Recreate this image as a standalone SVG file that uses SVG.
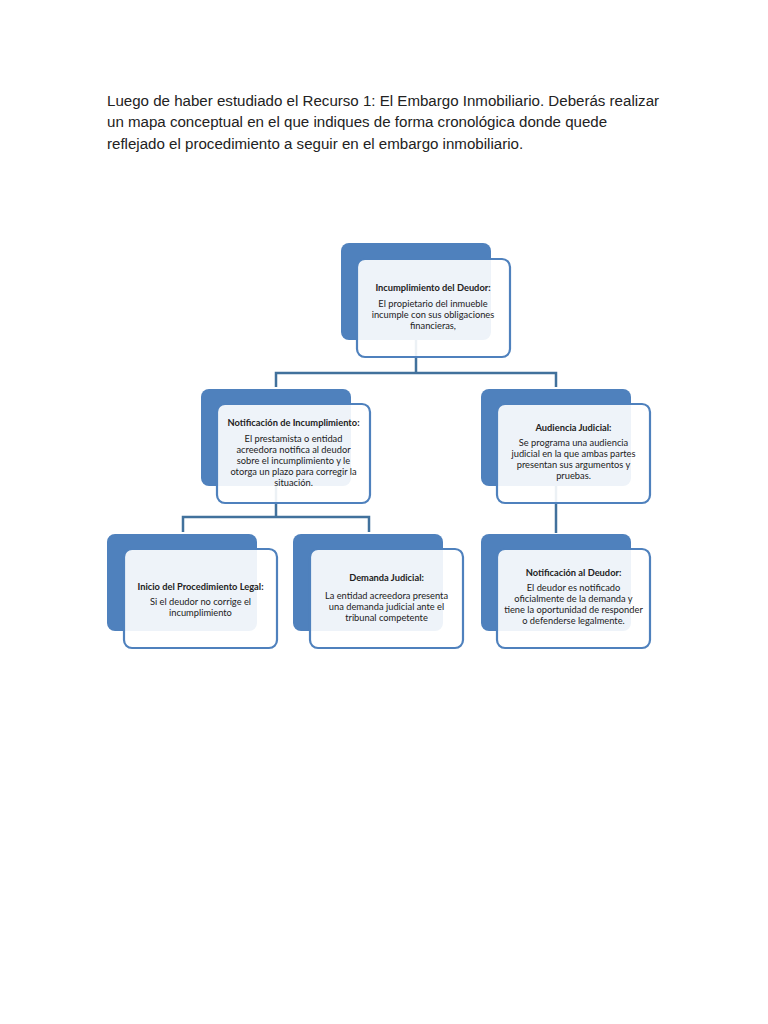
<svg xmlns="http://www.w3.org/2000/svg" width="768" height="1024" viewBox="0 0 768 1024">
<style>
.title{font-family:"Liberation Sans",Arial,sans-serif;font-size:15.1px;fill:#222}
.back{fill:#4f81bd}
.front{fill:#ffffff;fill-opacity:0.9;stroke:#4f81bd;stroke-width:2.2}
.conn{fill:none;stroke:#41719c;stroke-width:2.5}
.h{font-family:Lato,"Open Sans",sans-serif;font-size:9.3px;font-weight:bold;fill:#222;text-anchor:middle}
.b{font-family:Lato,"Open Sans",sans-serif;font-size:9.3px;fill:#222;text-anchor:middle}
</style>
<rect width="768" height="1024" fill="#ffffff"/>
<g id="title">
<text class="title" x="107" y="106">Luego de haber estudiado el Recurso 1: El Embargo Inmobiliario. Deberás realizar</text>
<text class="title" x="107" y="127">un mapa conceptual en el que indiques de forma cronológica donde quede</text>
<text class="title" x="107" y="149">reflejado el procedimiento a seguir en el embargo inmobiliario.</text>
</g>
<g id="connectors">
<path class="conn" d="M416,340 V373 M276,387 V373 H556 V387"/>
<path class="conn" d="M276,486 V517 M183,532 V517 H369 V532"/>
<path class="conn" d="M556,486 V533"/>
</g>
<g id="n1">
<rect class="back" x="341" y="243" width="150" height="97" rx="8"/>
<rect class="front" x="357" y="259" width="153" height="98" rx="8"/>
<text class="h" x="433" y="291">Incumplimiento del Deudor:</text>
<text class="b" x="433" y="307">El propietario del inmueble</text>
<text class="b" x="433" y="318">incumple con sus obligaciones</text>
<text class="b" x="433" y="329">financieras,</text>
</g>
<g id="n2">
<rect class="back" x="201" y="389" width="150" height="97" rx="8"/>
<rect class="front" x="217" y="404" width="153" height="99" rx="8"/>
<text class="h" x="293.5" y="426">Notificación de Incumplimiento:</text>
<text class="b" x="293.5" y="442">El prestamista o entidad</text>
<text class="b" x="293.5" y="453">acreedora notifica al deudor</text>
<text class="b" x="293.5" y="464">sobre el incumplimiento y le</text>
<text class="b" x="293.5" y="475">otorga un plazo para corregir la</text>
<text class="b" x="293.5" y="486">situación.</text>
</g>
<g id="n3">
<rect class="back" x="481" y="389" width="150" height="97" rx="8"/>
<rect class="front" x="497" y="404" width="153" height="99" rx="8"/>
<text class="h" x="573.5" y="431">Audiencia Judicial:</text>
<text class="b" x="573.5" y="446">Se programa una audiencia</text>
<text class="b" x="573.5" y="457">judicial en la que ambas partes</text>
<text class="b" x="573.5" y="468">presentan sus argumentos y</text>
<text class="b" x="573.5" y="479">pruebas.</text>
</g>
<g id="n4">
<rect class="back" x="107" y="534" width="150" height="97" rx="8"/>
<rect class="front" x="124" y="549" width="153" height="99" rx="8"/>
<text class="h" x="200.5" y="590">Inicio del Procedimiento Legal:</text>
<text class="b" x="200.5" y="605">Si el deudor no corrige el</text>
<text class="b" x="200.5" y="616">incumplimiento</text>
</g>
<g id="n5">
<rect class="back" x="293" y="534" width="150" height="97" rx="8"/>
<rect class="front" x="310" y="549" width="153" height="99" rx="8"/>
<text class="h" x="386.5" y="581">Demanda Judicial:</text>
<text class="b" x="386.5" y="599">La entidad acreedora presenta</text>
<text class="b" x="386.5" y="610">una demanda judicial ante el</text>
<text class="b" x="386.5" y="621">tribunal competente</text>
</g>
<g id="n6">
<rect class="back" x="481" y="534" width="150" height="97" rx="8"/>
<rect class="front" x="497" y="549" width="153" height="99" rx="8"/>
<text class="h" x="573.5" y="576">Notificación al Deudor:</text>
<text class="b" x="573.5" y="591">El deudor es notificado</text>
<text class="b" x="573.5" y="602">oficialmente de la demanda y</text>
<text class="b" x="573.5" y="613">tiene la oportunidad de responder</text>
<text class="b" x="573.5" y="624">o defenderse legalmente.</text>
</g>
</svg>
